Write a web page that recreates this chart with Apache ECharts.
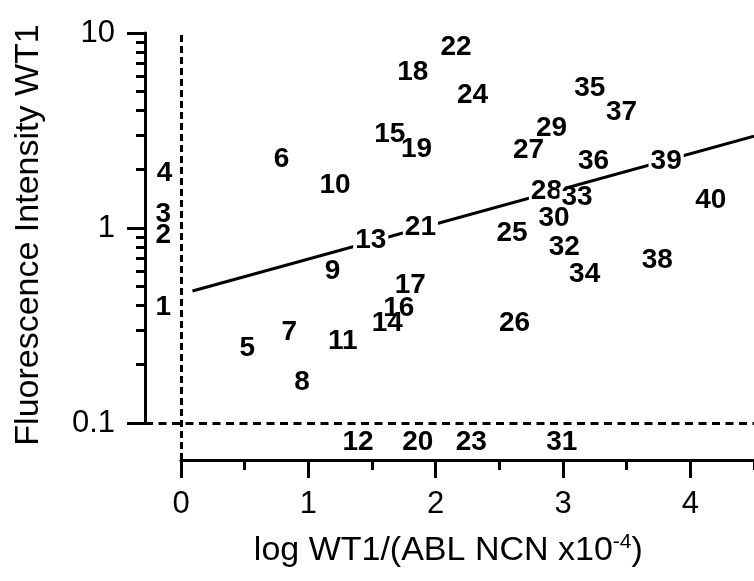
<!DOCTYPE html>
<html><head><meta charset="utf-8">
<script src="https://cdn.jsdelivr.net/npm/echarts@6/dist/echarts.min.js"></script>
<style>html,body{margin:0;padding:0;background:#fff}#chart{width:754px;height:581px}</style>
</head><body><div id="chart"></div>
<script>
// ---- data ----
const sampleIds = ['1','2','3','4','5','6','7','8','9','10','11','12','13','14','15','16','17','18','19','20',
                   '21','22','23','24','25','26','27','28','29','30','31','32','33','34','35','36','37','38','39','40'];
const logWT1 = [-0.14,-0.14,-0.14,-0.13,0.52,0.79,0.85,0.95,1.19,1.21,1.27,1.39,1.49,1.62,1.64,1.71,1.80,1.82,1.85,1.86,
                1.88,2.16,2.28,2.29,2.60,2.62,2.73,2.87,2.91,2.93,2.99,3.01,3.11,3.17,3.21,3.24,3.46,3.74,3.81,4.16];
const fluorescence = [0.39,0.92,1.17,1.91,0.243,2.26,0.293,0.162,0.60,1.66,0.263,0.080,0.87,0.326,3.03,0.389,0.51,6.3,2.54,0.080,
                      1.01,8.4,0.080,4.8,0.94,0.326,2.51,1.55,3.26,1.12,0.080,0.80,1.44,0.58,5.2,2.21,3.93,0.68,2.21,1.39];
const trendX = [0.09, 4.5];
const trendY = [0.475, 2.96];
const cutoffX = 0;
const cutoffY = 0.1;
const xTickLabels = ['0','1','2','3','4','5'];
const yTickValues = [0.1, 1, 10];
const yTickLabels = ['0.1', '1', '10'];
const yMinorTickValues = [0.2,0.3,0.4,0.5,0.6,0.7,0.8,0.9,2,3,4,5,6,7,8,9];

// ---- layout ----
const yAxisX = 145, zeroX = 181, pxPerX = (754 - 181) / 4.5;
const topY = 33, y01 = 423, xAxisY = 460, decadePx = (y01 - topY) / 2;
const xMaxGrid = 5;
const xMinGrid = -(zeroX - yAxisX) / pxPerX;
const yMinGrid = 0.1 * Math.pow(10, -(xAxisY - y01) / decadePx);
const FONT = '"Liberation Sans", Arial, Helvetica, sans-serif';

const lg = Math.log10;
function trendLogAt(x) {
  const t = (x - trendX[0]) / (trendX[1] - trendX[0]);
  return lg(trendY[0]) + t * (lg(trendY[1]) - lg(trendY[0]));
}

const pointData = sampleIds.map((id, i) => {
  const item = { name: id, value: [logWT1[i], fluorescence[i]] };
  const x = logWT1[i];
  if (x >= trendX[0] && x <= trendX[1] && Math.abs(lg(fluorescence[i]) - trendLogAt(x)) < 0.075) {
    item.label = { backgroundColor: '#fff', padding: [0, 2], lineHeight: 20 };
  }
  return item;
});

const black = '#000';
const chart = echarts.init(document.getElementById('chart'), null, { renderer: 'canvas' });
chart.setOption({
  animation: false,
  backgroundColor: '#fff',
  grid: [
    { left: yAxisX, top: topY, width: (xMaxGrid - xMinGrid) * pxPerX, height: xAxisY - topY, outerBoundsMode: 'none', containLabel: false },
    { left: yAxisX, top: topY, width: 10, height: y01 - topY, outerBoundsMode: 'none', containLabel: false },
    { left: zeroX, top: topY, width: xMaxGrid * pxPerX, height: xAxisY - topY, outerBoundsMode: 'none', containLabel: false },
    { left: yAxisX, top: topY, width: 10, height: y01 - topY, outerBoundsMode: 'none', containLabel: false }
  ],
  xAxis: [
    { gridIndex: 0, type: 'value', min: xMinGrid, max: xMaxGrid, show: false },
    { gridIndex: 1, type: 'value', min: 0, max: 1, show: false },
    { gridIndex: 2, type: 'value', min: 0, max: xMaxGrid, interval: 1, position: 'bottom',
      name: '{a|log WT1/(ABL NCN x10}{s|-4}{a|)}', nameLocation: 'middle', nameGap: 72,
      nameTextStyle: { padding: [0, 102, 0, 0],
        rich: { a: { fontSize: 34, fontFamily: FONT, color: black, lineHeight: 38 },
                s: { fontSize: 21, fontFamily: FONT, color: black, verticalAlign: 'top', lineHeight: 21 } } },
      axisLine: { show: true, lineStyle: { color: black, width: 3 } },
      axisTick: { show: true, length: 18, lineStyle: { color: black, width: 3 } },
      minorTick: { show: true, splitNumber: 2, length: 10, lineStyle: { color: black, width: 3 } },
      axisLabel: { fontSize: 31, fontFamily: FONT, color: black, margin: 29,
        formatter: v => xTickLabels[Math.round(v)] },
      splitLine: { show: false }, minorSplitLine: { show: false } },
    { gridIndex: 3, type: 'value', min: 0, max: 1, show: false }
  ],
  yAxis: [
    { gridIndex: 0, type: 'log', logBase: 10, min: yMinGrid, max: 10, show: false },
    { gridIndex: 1, type: 'value', min: lg(yTickValues[0]), max: lg(yTickValues[2]), interval: 1, position: 'left',
      name: 'Fluorescence Intensity WT1', nameLocation: 'middle', nameGap: 99, nameRotate: 90,
      nameTextStyle: { fontSize: 34, fontFamily: FONT, color: black, padding: [0, 14, 0, 0] },
      axisLine: { show: true, lineStyle: { color: black, width: 3 } },
      axisTick: { show: true, length: 18, lineStyle: { color: black, width: 3 } },
      axisLabel: { fontSize: 31, fontFamily: FONT, color: black, margin: 30,
        formatter: v => {
          let best = 0;
          yTickValues.forEach((t, k) => { if (Math.abs(lg(t) - v) < Math.abs(lg(yTickValues[best]) - v)) best = k; });
          return yTickLabels[best];
        } },
      splitLine: { show: false } },
    { gridIndex: 2, type: 'value', min: 0, max: 1, show: false },
    { gridIndex: 3, type: 'value', min: lg(yTickValues[0]), max: lg(yTickValues[2]), position: 'left',
      axisLine: { show: false },
      axisTick: { show: true, length: 9, customValues: yMinorTickValues.map(lg), lineStyle: { color: black, width: 3 } },
      axisLabel: { show: false }, splitLine: { show: false } }
  ],
  series: [
    { type: 'line', xAxisIndex: 0, yAxisIndex: 0, z: 2, symbol: 'none', silent: true,
      data: trendX.map((x, i) => [x, trendY[i]]),
      lineStyle: { color: black, width: 3 },
      markLine: { silent: true, symbol: 'none', label: { show: false },
        data: [
          { xAxis: cutoffX, lineStyle: { color: black, width: 3, type: [7, 4] } },
          { yAxis: cutoffY, lineStyle: { color: black, width: 3, type: [8, 5.5] } }
        ] } },
    { type: 'scatter', xAxisIndex: 0, yAxisIndex: 0, z: 5, symbol: 'circle', symbolSize: 0, silent: true,
      itemStyle: { color: black },
      label: { show: true, position: 'inside', formatter: '{b}', fontSize: 28, fontWeight: 'bold',
        fontFamily: FONT, color: black, textBorderWidth: 0, opacity: 1 },
      emphasis: { disabled: true },
      data: pointData, clip: false }
  ]
});
</script></body></html>
